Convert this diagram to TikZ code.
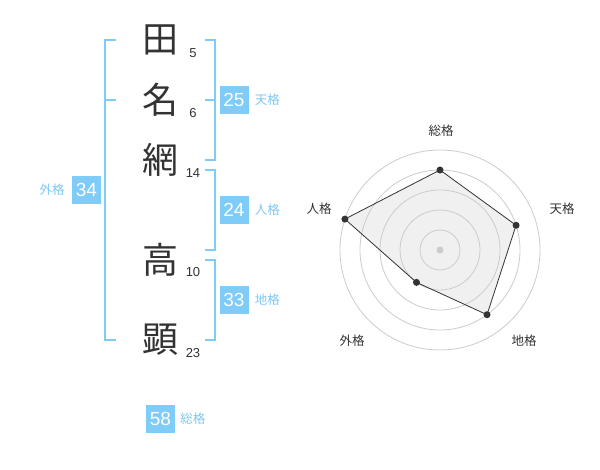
\documentclass[tikz,border=0pt]{standalone}
\usepackage{fontspec}
\setmainfont{Noto Sans CJK JP}
\newfontfamily\digitfont{Liberation Sans}
\usetikzlibrary{positioning,calc}
\definecolor{kakublue}{RGB}{128,204,248}
\definecolor{kakutext}{RGB}{125,200,242}
\definecolor{inkgray}{RGB}{51,51,51}
\definecolor{ringgray}{RGB}{204,204,204}
\definecolor{areagray}{RGB}{240,240,240}
\tikzset{every picture/.style={
  x=1pt,y=-1pt                  % pixel units, y downwards.
  }
}
\newcommand{\kaku}{\fontsize{12.5}{13}\selectfont}

\begin{document}
\begin{tikzpicture}[
    kanji/.style={text=inkgray,font=\fontsize{36}{38}\selectfont,inner sep=0pt},
    strokes/.style={text=inkgray,font=\digitfont\fontsize{13}{14}\selectfont,inner sep=0pt},
    bracket/.style={kakublue,line width=2pt},
    kakubox/.style={fill=kakublue,text=white,minimum width=29pt,minimum height=28pt,
      inner sep=0pt,font=\digitfont\fontsize{19}{19}\selectfont},
    kakulabel/.style={text=kakutext,inner sep=0pt,font=\kaku},
    radarlabel/.style={text=inkgray,inner sep=0pt,font=\kaku},
    ring/.style={ringgray,line width=0.8pt},
    dot/.style={circle,fill=inkgray,inner sep=0pt,minimum size=7pt}]
  \useasboundingbox[fill=white] (0,0) rectangle (600,470);

  % name
  \node[kanji] (ta)   at (160,40)  {田};
  \node[kanji] (na)   at (160,100) {名};
  \node[kanji] (ami)  at (160,160) {網};
  \node[kanji] (taka) at (160,260) {高};
  \node[kanji] (ken)  at (160,340) {顕};
  \node[strokes] (ta-n)   at (193,53)  {5};
  \node[strokes] (na-n)   at (193,113) {6};
  \node[strokes] (ami-n)  at (193,173) {14};
  \node[strokes] (taka-n) at (193,272) {10};
  \node[strokes] (ken-n)  at (193,353) {23};

  % brackets
  \draw[bracket] (116,40) -- (105,40) -- (105,340) -- (116,340);
  \draw[bracket] (105,100) -- (116,100);
  \draw[bracket] (205,40) -| (215,160) -- (205,160);
  \draw[bracket] (205,100) -- (215,100);
  \draw[bracket] (205,170) -| (215,250) -- (205,250);
  \draw[bracket] (205,260) -| (215,340) -- (205,340);

  \node[kakubox] (gaikaku) at (86.5,190) {34};
  \node[kakulabel,left=7pt of gaikaku] {外格};
  \node[kakubox] (tenkaku) at (234,100) {25};
  \node[kakulabel,right=6pt of tenkaku] {天格};
  \node[kakubox] (jinkaku) at (234,210) {24};
  \node[kakulabel,right=6pt of jinkaku] {人格};
  \node[kakubox] (chikaku) at (234,300) {33};
  \node[kakulabel,right=6pt of chikaku] {地格};
  \node[kakubox] (soukaku) at (160.5,419) {58};
  \node[kakulabel,right=5pt of soukaku] {総格};

  % radar chart
  \begin{scope}[shift={(440,250)},yscale=-1]
    \coordinate (r-sou)  at (90:80);
    \coordinate (r-ten)  at (18:80);
    \coordinate (r-chi)  at (-54:80);
    \coordinate (r-gai)  at (-126:40);
    \coordinate (r-jin)  at (162:100);
    \fill[areagray] (r-sou) -- (r-ten) -- (r-chi) -- (r-gai) -- (r-jin) -- cycle;
    \foreach \r in {20,40,...,100}
      \draw[ring] (0,0) circle (\r);
    \node[circle,fill=ringgray,inner sep=0pt,minimum size=7pt] (r-center) at (0,0) {};
    \draw[inkgray,line width=0.8pt] (r-sou) -- (r-ten) -- (r-chi) -- (r-gai) -- (r-jin) -- cycle;
    \foreach \p in {sou,ten,chi,gai,jin}
      \node[dot] (d-\p) at (r-\p) {};
    \node[radarlabel] (l-sou) at (1,119)    {総格};
    \node[radarlabel] (l-ten) at (122,41)   {天格};
    \node[radarlabel] (l-chi) at (84,-91)   {地格};
    \node[radarlabel] (l-gai) at (-88,-91)  {外格};
    \node[radarlabel] (l-jin) at (-121,41)  {人格};
  \end{scope}
\end{tikzpicture}
\end{document}
